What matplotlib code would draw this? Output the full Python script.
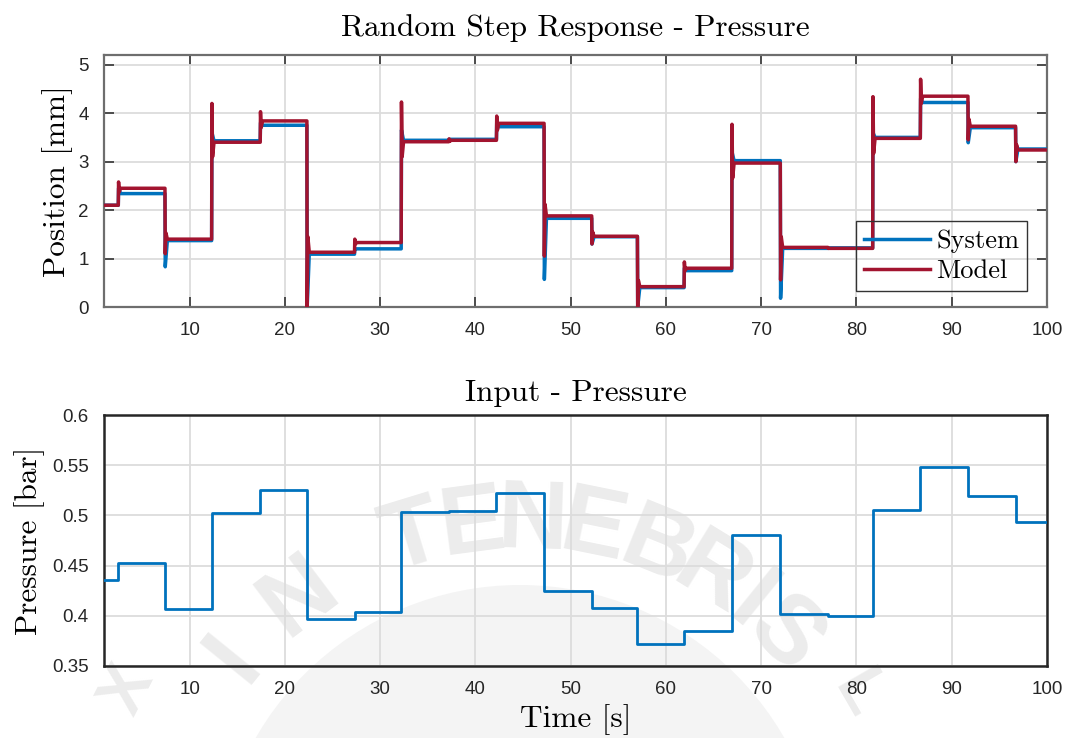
import math
import matplotlib
matplotlib.use("Agg")
import matplotlib.pyplot as plt
from matplotlib.patches import Ellipse

# ---- data -------------------------------------------------------------
t_start, t_end = 1.0, 100.0
step_times = [2.5, 7.4, 12.3, 17.4, 22.3, 27.3, 32.2, 37.2, 42.2, 47.2,
              52.2, 57.0, 61.9, 66.9, 72.0, 77.0, 81.7, 86.7, 91.7, 96.7]

# input pressure [bar], one level per interval
input_levels = [0.436, 0.453, 0.407, 0.502, 0.525, 0.397, 0.404, 0.503,
                0.504, 0.522, 0.425, 0.408, 0.372, 0.385, 0.480, 0.402,
                0.400, 0.505, 0.548, 0.519, 0.493]

# measured position [mm]: settled levels and first extreme after each step
system_levels = [2.10, 2.34, 1.37, 3.43, 3.75, 1.09, 1.20, 3.44, 3.46, 3.72,
                 1.83, 1.45, 0.40, 0.75, 3.02, 1.21, 1.22, 3.50, 4.22, 3.70,
                 3.26]
system_peaks = [2.45, 0.83, 3.60, 3.80, 0.00, 1.20, 3.65, 3.46, 3.80, 0.57,
                1.30, 0.00, 0.80, 3.20, 0.18, 1.21, 3.60, 4.30, 3.39, 3.00]

# model position [mm]: settled levels, first extreme and rebound
model_levels = [2.10, 2.45, 1.40, 3.40, 3.84, 1.13, 1.33, 3.41, 3.44, 3.79,
                1.88, 1.46, 0.42, 0.80, 2.97, 1.23, 1.21, 3.48, 4.35, 3.73,
                3.24]
model_peaks = [2.58, 1.10, 4.20, 4.03, 0.00, 1.40, 4.23, 3.47, 3.94, 1.05,
               1.30, 0.00, 0.93, 3.77, 0.56, 1.21, 4.34, 4.70, 3.45, 3.00]
model_rebounds = [2.38, 1.53, 3.10, 3.70, 1.45, 1.30, 3.10, 3.42, 3.65, 2.12,
                  1.55, 0.55, 0.75, 2.66, 1.45, 1.21, 3.17, 4.20, 3.88, 3.35]

x_ticks = [10, 20, 30, 40, 50, 60, 70, 80, 90, 100]
pos_ticks = [0, 1, 2, 3, 4, 5]
p_ticks = [0.35, 0.4, 0.45, 0.5, 0.55, 0.6]
p_ticklabels = ["0.35", "0.4", "0.45", "0.5", "0.55", "0.6"]

BLUE = "#0072BD"
RED = "#A2142F"
SERIF = "cmr10"
SANS = "Liberation Sans"
LABEL_SIZE = 22.5
TICK_SIZE = 13.5


def response_trace(levels, peaks, rebounds=None):
    """Piecewise trace: jump to the extreme, optional rebound, then settle."""
    t, y = [t_start], [levels[0]]
    for k, ts in enumerate(step_times):
        t += [ts, ts + 0.03]
        y += [levels[k], peaks[k]]
        if rebounds is not None:
            t.append(ts + 0.10)
            y.append(rebounds[k])
        t.append(ts + 0.25)
        y.append(levels[k + 1])
    t.append(t_end)
    y.append(levels[-1])
    return t, y


fig = plt.figure(figsize=(10.68, 7.38), dpi=100)
fig.patch.set_facecolor("white")

# faint university seal behind the lower panel
W, H = 1068.0, 738.0
cx, cy = 520.0, 890.0
fig.patches.append(Ellipse((cx / W, 1 - cy / H), 2 * 305 / W, 2 * 305 / H,
                           transform=fig.transFigure, facecolor="#f4f4f4",
                           edgecolor="none", zorder=-2))
# (letter, angle in degrees, radius in px, font size)
seal_letters = [("X", 153, 440, 48), ("I", 141, 367, 70),
                ("N", 127, 367, 70), ("T", 107, 367, 70),
                ("E", 97.5, 367, 70), ("N", 88, 367, 70),
                ("E", 78.5, 367, 70), ("B", 68, 367, 70),
                ("R", 58.5, 367, 70), ("I", 51, 367, 70),
                ("S", 44, 367, 70), ("L", 30, 390, 48)]
for ch, ang, r, size in seal_letters:
    a = math.radians(ang)
    px = cx + r * math.cos(a)
    py = cy - r * math.sin(a)
    fig.text(px / W, 1 - py / H, ch, fontsize=size, fontweight="bold",
             family="Liberation Sans", color="#ececec", rotation=ang - 90,
             ha="center", va="center", zorder=-1)

ax1 = fig.add_axes([104 / W, 1 - 307 / H, 943 / W, 252 / H])
ax2 = fig.add_axes([104 / W, 1 - 666 / H, 943 / W, 251 / H])

# ---- top: position response ----
ts_sys, ys_sys = response_trace(system_levels, system_peaks)
ts_mod, ys_mod = response_trace(model_levels, model_peaks, model_rebounds)
ax1.plot(ts_sys, ys_sys, color=BLUE, lw=2.5, label="System", zorder=3)
ax1.plot(ts_mod, ys_mod, color=RED, lw=2.5, label="Model", zorder=4)
ax1.set_xlim(t_start, t_end)
ax1.set_ylim(0, 5.2)
ax1.set_xticks(x_ticks)
ax1.set_yticks(pos_ticks)
ax1.set_title("Random Step Response - Pressure", family=SERIF,
              fontsize=LABEL_SIZE, pad=14)
ax1.set_ylabel("Position [mm]", family=SERIF, fontsize=LABEL_SIZE,
               labelpad=4)
leg = ax1.legend(loc="lower right", bbox_to_anchor=(0.979, 0.0635),
                 borderaxespad=0, prop={"family": SERIF, "size": 19},
                 handlelength=2.5, handletextpad=0.25, fancybox=False,
                 borderpad=0.3, labelspacing=0.25)
frame = leg.get_frame()
frame.set_alpha(None)
frame.set_facecolor((1, 1, 1, 0))
frame.set_edgecolor("#333333")
frame.set_linewidth(1.0)
for s in ax1.spines.values():
    s.set_color("#6e6e6e")
    s.set_linewidth(1.6)
ax1.tick_params(direction="in", length=7, width=1.2, color="#333333",
                top=True, right=True, pad=11)

# ---- bottom: input pressure ----
ax2.step([t_start] + step_times + [t_end], input_levels + [input_levels[-1]],
         where="post", color=BLUE, lw=2.0, zorder=3)
ax2.set_xlim(t_start, t_end)
ax2.set_ylim(0.35, 0.6)
ax2.set_xticks(x_ticks)
ax2.set_yticks(p_ticks)
ax2.set_yticklabels(p_ticklabels)
ax2.set_title("Input - Pressure", family=SERIF, fontsize=LABEL_SIZE, pad=10)
ax2.set_ylabel("Pressure [bar]", family=SERIF, fontsize=LABEL_SIZE,
               labelpad=5)
ax2.set_xlabel("Time [s]", family=SERIF, fontsize=LABEL_SIZE, labelpad=4)
for s in ax2.spines.values():
    s.set_color("#262626")
    s.set_linewidth(1.8)
ax2.tick_params(direction="in", length=0, pad=11)

for ax in (ax1, ax2):
    ax.set_facecolor("none")
    ax.grid(True, color="#dcdcdc", lw=1.3)
    ax.set_axisbelow(True)
    for lab in ax.get_xticklabels() + ax.get_yticklabels():
        lab.set_family(SANS)
        lab.set_fontsize(TICK_SIZE)
        lab.set_color("#262626")

fig.savefig("out.png", dpi=100)
